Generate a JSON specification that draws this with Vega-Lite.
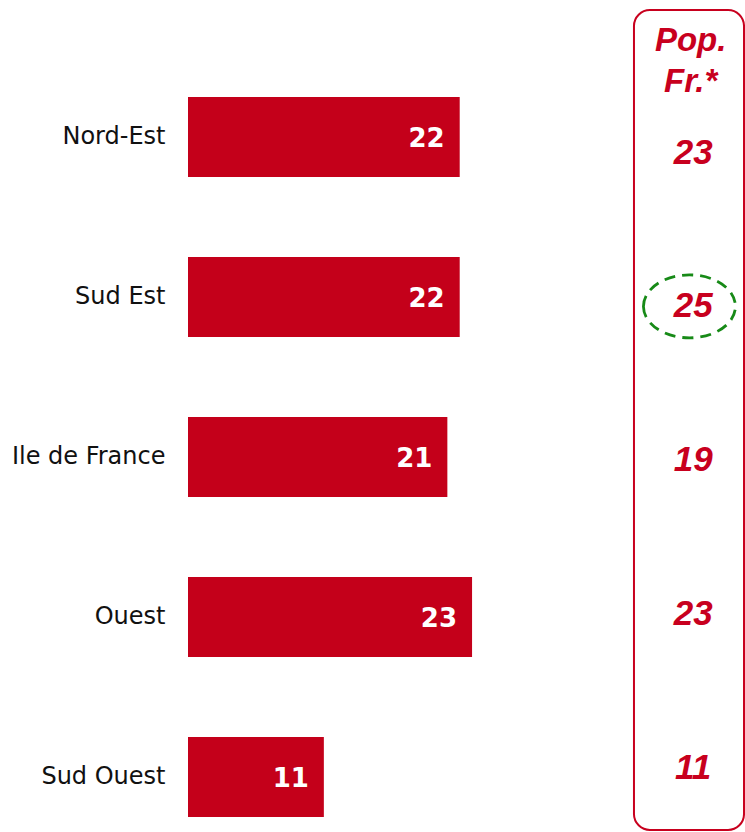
{
  "$schema": "https://vega.github.io/schema/vega-lite/v6.json",
  "width": 557,
  "height": 820,
  "autosize": {"type": "none"},
  "padding": {"left": 188, "top": 10, "right": 0, "bottom": 2},
  "background": "white",
  "config": {"view": {"stroke": null}},
  "data": {
    "values": [
      {"region": "Nord-Est", "score": 22, "pop": 23},
      {"region": "Sud Est", "score": 22, "pop": 25},
      {"region": "Ile de France", "score": 21, "pop": 19},
      {"region": "Ouest", "score": 23, "pop": 23},
      {"region": "Sud Ouest", "score": 11, "pop": 11}
    ]
  },
  "resolve": {"scale": {"y": "independent"}},
  "layer": [
    {
      "layer": [
        {
          "mark": {"type": "bar", "color": "#C4001A"},
          "encoding": {
            "y": {
              "field": "region", "type": "nominal", "sort": null,
              "scale": {"paddingInner": 0.5, "paddingOuter": 0.3125, "align": 0.87},
              "axis": {"title": null, "ticks": false, "domain": false, "labelFont": "DejaVu Sans", "labelFontSize": 24, "labelColor": "#111111", "labelPadding": 23, "labelLimit": 300}
            },
            "x": {"field": "score", "type": "quantitative", "scale": {"domain": [0, 45.1], "nice": false, "zero": true}, "axis": null}
          }
        },
        {
          "mark": {"type": "text", "align": "right", "baseline": "middle", "dx": -15, "dy": 2, "font": "DejaVu Sans", "fontWeight": "bold", "fontSize": 26, "color": "white"},
          "encoding": {
            "y": {"field": "region", "type": "nominal", "sort": null},
            "x": {"field": "score", "type": "quantitative"},
            "text": {"field": "score"}
          }
        }
      ]
    },
    {
      "layer": [
        {
          "mark": {"type": "text", "font": "Liberation Sans", "fontStyle": "italic", "fontWeight": "bold", "fontSize": 35, "color": "#C8001E", "baseline": "middle", "align": "center"},
          "encoding": {
            "x": {"datum": 40.9},
            "y": {
              "field": "region", "type": "nominal", "sort": null,
              "scale": {"type": "point", "domain": ["Nord-Est", "Sud Est", "Ile de France", "Ouest", "Sud Ouest"], "range": [142.5, 758], "padding": 0},
              "axis": null
            },
            "text": {"field": "pop"}
          }
        },
        {
          "transform": [{"filter": "datum.region === 'Sud Est'"}],
          "mark": {"type": "point", "shape": "M -1.46 0 A 1.46 1 0 1 1 1.46 0 A 1.46 1 0 1 1 -1.46 0", "size": 3969, "filled": false, "color": "#178A17", "strokeWidth": 2.8, "strokeDash": [11, 7], "opacity": 1},
          "encoding": {
            "x": {"datum": 40.6},
            "y": {"field": "region", "type": "nominal", "sort": null}
          }
        },
        {
          "data": {"values": [{"panel": "Pop. Fr.*"}]},
          "mark": {"type": "rect", "fillOpacity": 0, "stroke": "#C8001E", "strokeWidth": 2, "cornerRadius": 16},
          "encoding": {
            "x": {"datum": 36.11},
            "x2": {"datum": 45.02}
          }
        },
        {
          "data": {"values": [{"panel": "Pop. Fr.*"}]},
          "mark": {"type": "text", "text": ["Pop.", "Fr.*"], "lineHeight": 41, "font": "Liberation Sans", "fontStyle": "italic", "fontWeight": "bold", "fontSize": 33, "color": "#C8001E", "baseline": "middle", "align": "center", "dy": -112},
          "encoding": {
            "x": {"datum": 40.7},
            "y": {"datum": "Nord-Est", "type": "nominal"}
          }
        }
      ]
    }
  ]
}
